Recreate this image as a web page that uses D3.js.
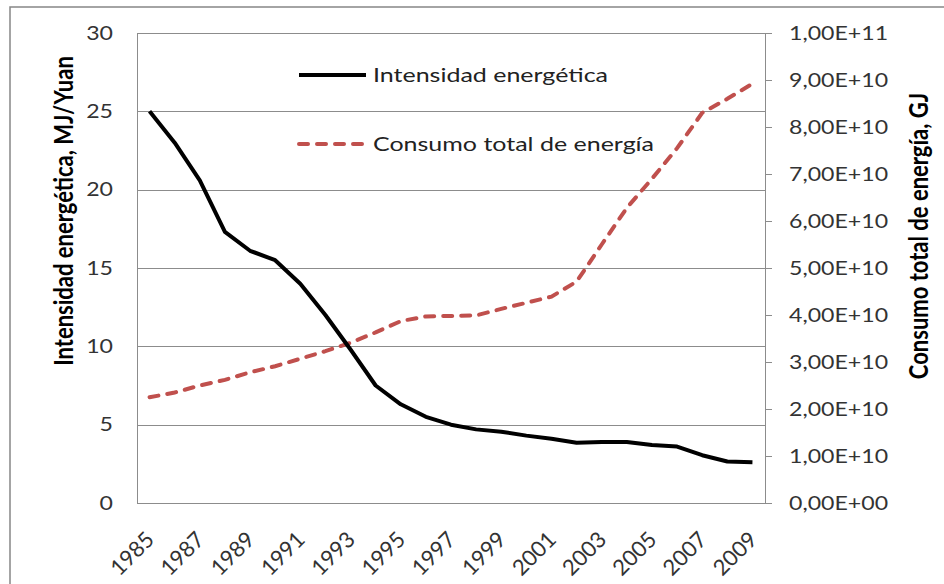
<!DOCTYPE html>
<html>
<head>
<meta charset="utf-8">
<script src="https://cdn.jsdelivr.net/npm/d3@7"></script>
<style>
  body { margin: 0; background: #fff; }
  text { font-family: Lato, "Open Sans", sans-serif; }
</style>
</head>
<body>
<div id="chart"></div>
<script>
// categories
var anios = [1985, 1986, 1987, 1988, 1989, 1990, 1991, 1992, 1993, 1994, 1995, 1996,
  1997, 1998, 1999, 2000, 2001, 2002, 2003, 2004, 2005, 2006, 2007, 2008, 2009];
var etiquetasAnio = [1985, 1987, 1989, 1991, 1993, 1995, 1997, 1999, 2001, 2003, 2005, 2007, 2009];

// Intensidad energetica, MJ/Yuan (eje izquierdo)
var intensidad = [25.0, 23.0, 20.6, 17.3, 16.1, 15.5, 14.0, 12.0, 9.8, 7.5, 6.3, 5.5,
  5.0, 4.7, 4.55, 4.3, 4.1, 3.85, 3.9, 3.9, 3.7, 3.6, 3.05, 2.65, 2.6];

// Consumo total de energia, GJ (eje derecho)
var consumo = [2.25e10, 2.35e10, 2.50e10, 2.62e10, 2.78e10, 2.91e10, 3.07e10, 3.23e10,
  3.41e10, 3.63e10, 3.87e10, 3.97e10, 3.98e10, 3.99e10, 4.13e10, 4.26e10, 4.39e10,
  4.71e10, 5.50e10, 6.28e10, 6.90e10, 7.55e10, 8.30e10, 8.60e10, 8.92e10];

var ticksIzq = [0, 5, 10, 15, 20, 25, 30];
var ticksDer = [0, 1e10, 2e10, 3e10, 4e10, 5e10, 6e10, 7e10, 8e10, 9e10, 1e11];

var width = 944, height = 584;
var pLeft = 137, pRight = 765, pTop = 33, pBottom = 503;
var sx = 1.25; // texts look stretched horizontally
var rojo = '#C0504D';

var svg = d3.select('#chart').append('svg')
  .attr('width', width)
  .attr('height', height);

// outer chart border
svg.append('rect')
  .attr('x', 10).attr('y', 7)
  .attr('width', 960).attr('height', 600)
  .attr('fill', 'none')
  .attr('stroke', '#868686')
  .attr('stroke-width', 1.5);

var x = d3.scalePoint().domain(anios).range([pLeft, pRight]).padding(0.5);
var yIzq = d3.scaleLinear().domain([0, 30]).range([pBottom, pTop]);
var yDer = d3.scaleLinear().domain([0, 1e11]).range([pBottom, pTop]);

// gridlines
svg.append('g').selectAll('line')
  .data(ticksIzq)
  .enter().append('line')
  .attr('x1', pLeft).attr('x2', pRight)
  .attr('y1', function(d) { return Math.round(yIzq(d)) + 0.5; })
  .attr('y2', function(d) { return Math.round(yIzq(d)) + 0.5; })
  .attr('stroke', '#8c8c8c');

// plot frame
svg.append('line').attr('x1', pLeft + 0.5).attr('x2', pLeft + 0.5)
  .attr('y1', pTop).attr('y2', pBottom).attr('stroke', '#8c8c8c');
svg.append('line').attr('x1', pRight + 0.5).attr('x2', pRight + 0.5)
  .attr('y1', pTop).attr('y2', pBottom).attr('stroke', '#8c8c8c');

// right axis ticks
svg.append('g').selectAll('line')
  .data(ticksDer)
  .enter().append('line')
  .attr('x1', pRight).attr('x2', pRight + 7)
  .attr('y1', function(d) { return Math.round(yDer(d)) + 0.5; })
  .attr('y2', function(d) { return Math.round(yDer(d)) + 0.5; })
  .attr('stroke', '#8c8c8c');

function fmtE(v) {
  if (v === 0) return '0,00E+00';
  var e = Math.floor(Math.log10(v) + 1e-9);
  var m = (v / Math.pow(10, e)).toFixed(2).replace('.', ',');
  return m + 'E+' + (e < 10 ? '0' + e : e);
}

// left tick labels
svg.append('g').selectAll('text')
  .data(ticksIzq)
  .enter().append('text')
  .attr('transform', function(d) { return 'translate(113,' + yIzq(d) + ') scale(' + sx + ',1)'; })
  .attr('text-anchor', 'end')
  .attr('dy', '0.36em')
  .attr('font-size', 18.5)
  .attr('fill', '#333')
  .text(function(d) { return d; });

// right tick labels
svg.append('g').selectAll('text')
  .data(ticksDer)
  .enter().append('text')
  .attr('transform', function(d) { return 'translate(789,' + yDer(d) + ') scale(' + sx + ',1)'; })
  .attr('dy', '0.36em')
  .attr('font-size', 18.5)
  .attr('fill', '#333')
  .text(fmtE);

// x labels
svg.append('g').selectAll('text')
  .data(etiquetasAnio)
  .enter().append('text')
  .attr('transform', function(d) {
    return 'translate(' + (x(d) + 6) + ',' + 541 + ') rotate(-45)';
  })
  .attr('text-anchor', 'end')
  .attr('font-size', 22)
  .attr('fill', '#333')
  .text(function(d) { return d; });

// axis titles
svg.append('text')
  .attr('transform', 'translate(73,211) scale(' + sx + ',1) rotate(-90)')
  .attr('text-anchor', 'middle')
  .attr('font-size', 22)
  .attr('font-weight', 'bold')
  .text('Intensidad energética, MJ/Yuan');

svg.append('text')
  .attr('transform', 'translate(928,236) scale(' + sx + ',1) rotate(-90)')
  .attr('text-anchor', 'middle')
  .attr('font-size', 22)
  .attr('font-weight', 'bold')
  .text('Consumo total de energía, GJ');

// lines
var lineaIzq = d3.line()
  .x(function(d, i) { return x(anios[i]); })
  .y(function(d) { return yIzq(d); });
var lineaDer = d3.line()
  .x(function(d, i) { return x(anios[i]); })
  .y(function(d) { return yDer(d); });

svg.append('path')
  .datum(consumo)
  .attr('d', lineaDer)
  .attr('fill', 'none')
  .attr('stroke', rojo)
  .attr('stroke-width', 4)
  .attr('stroke-linecap', 'round')
  .attr('stroke-dasharray', '9,9');

svg.append('path')
  .datum(intensidad)
  .attr('d', lineaIzq)
  .attr('fill', 'none')
  .attr('stroke', '#000')
  .attr('stroke-width', 4)
  .attr('stroke-linejoin', 'round');

// legend
var leyenda = [
  { nombre: 'Intensidad energética', color: '#000', dash: null, y: 75 },
  { nombre: 'Consumo total de energía', color: rojo, dash: '9,9', y: 144 }
];
var lg = svg.append('g').selectAll('g')
  .data(leyenda)
  .enter().append('g');
lg.append('line')
  .attr('x1', 299).attr('x2', 366)
  .attr('y1', function(d) { return d.y; })
  .attr('y2', function(d) { return d.y; })
  .attr('stroke', function(d) { return d.color; })
  .attr('stroke-width', 4)
  .attr('stroke-linecap', function(d) { return d.dash ? 'round' : 'butt'; })
  .attr('stroke-dasharray', function(d) { return d.dash; });
lg.append('text')
  .attr('transform', function(d) { return 'translate(373,' + d.y + ') scale(' + sx + ',1)'; })
  .attr('dy', '0.36em')
  .attr('font-size', 20)
  .attr('fill', '#222')
  .text(function(d) { return d.nombre; });
</script>
</body>
</html>
